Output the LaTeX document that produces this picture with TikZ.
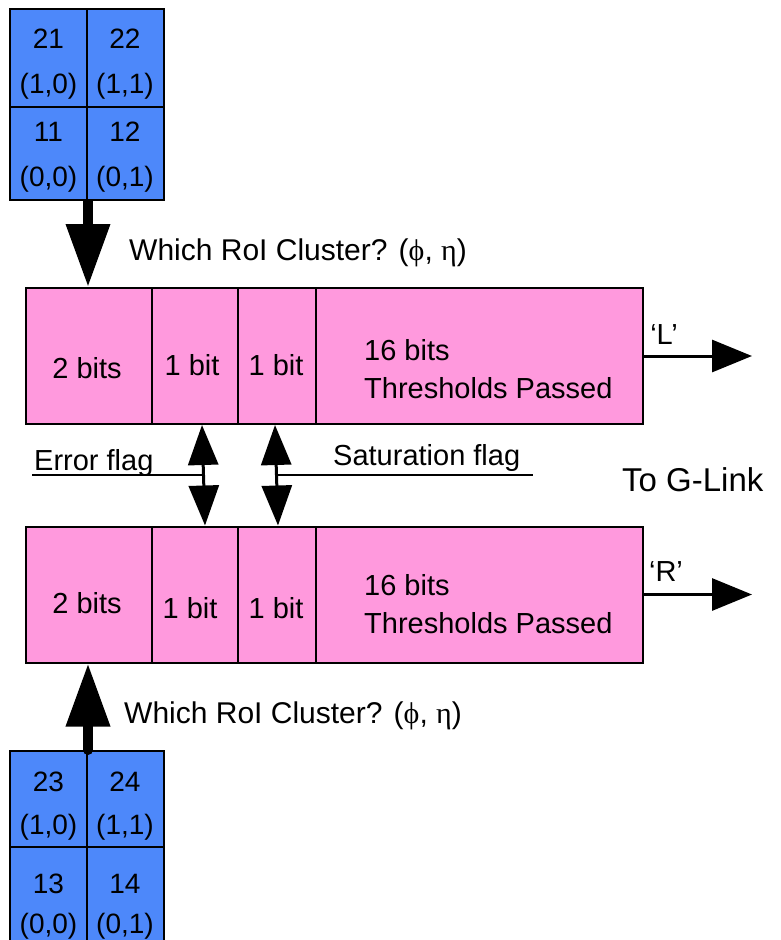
\documentclass[tikz,border=0pt]{standalone}
\usepackage{fontspec}
\setmainfont{Liberation Sans}
\newfontfamily\greekfont{Liberation Serif}
\usepackage{tikz}
\usetikzlibrary{positioning}
\usetikzlibrary{arrows.meta,shapes}
\usetikzlibrary{calc}
\definecolor{cellblue}{RGB}{77,136,250}
\definecolor{wordpink}{RGB}{255,153,221}
\tikzstyle{towercell}=[rectangle,draw=black,line width=2pt,fill=cellblue,minimum width=77pt,inner sep=0pt]
\tikzstyle{wordcell}=[rectangle,draw=black,line width=2pt,fill=wordpink,minimum height=136pt,inner sep=0pt]
\tikzstyle{celltext}=[font=\fontsize{28}{34}\selectfont,inner sep=0pt]
\tikzstyle{wordtext}=[font=\fontsize{29}{38}\selectfont,inner sep=0pt]
\tikzstyle{roitext}=[font=\fontsize{30}{36}\selectfont,inner sep=0pt,anchor=west]
\tikzstyle{cellarrow} = [draw,line width=10pt,-{Triangle[width=42pt,length=63pt]}]
\tikzstyle{flagarrow} = [draw,line width=3pt,{Triangle[width=30pt,length=40pt]}-{Triangle[width=30pt,length=40pt]}]
\tikzstyle{outarrow} = [draw,line width=3pt,-{Triangle[width=32pt,length=40pt]}]
\tikzstyle{flagline} = [draw,line width=2pt]
\newcommand{\phieta}{({\greekfont\char"03D5}, {\greekfont\char"03B7})}

\begin{document}
\begin{tikzpicture}[x=1pt,y=-1pt]
\useasboundingbox (0,0) rectangle (780,940);

    % First we draw the two towers of cells
    \foreach \pos/\name/\h in {{(48.5,58)/c21/98}, {(125,58)/c22/98}, {(48.5,153.5)/c11/93}, {(125,153.5)/c12/93}, {(48.5,799)/c23/96}, {(125,799)/c24/96}, {(48.5,894)/c13/94}, {(125,894)/c14/94}}
        \node[towercell, minimum height=\h pt] (\name) at \pos {};

    % Then the numbers and (row,col) of each cell
    \foreach \name/\num/\rc/\dn/\dr in {c21/21/{(1,0)}/31/78, c22/22/{(1,1)}/31/78, c11/11/{(0,0)}/26/73, c12/12/{(0,1)}/26/73, c23/23/{(1,0)}/32/77, c24/24/{(1,1)}/32/77, c13/13/{(0,0)}/38/80, c14/14/{(0,1)}/38/80}
    {
        \node[celltext] (n\name) at ([yshift=-\dn pt]\name.north) {\num};
        \node[celltext] (p\name) at ([yshift=-\dr pt]\name.north) {\rc};
    }

    % The two words sent out, 'L' on top and 'R' below
    \foreach \pos/\name/\w in {{(89,356)/L1/126}, {(195,356)/L2/86}, {(277,356)/L3/78}, {(479.5,356)/L4/327}, {(89,594.5)/R1/126}, {(195,594.5)/R2/86}, {(277,594.5)/R3/78}, {(479.5,594.5)/R4/327}}
        \node[wordcell, minimum width=\w pt] (\name) at \pos {};

    \foreach \pos/\label [count=\i] in {{(87,368)/2 bits}, {(192,365)/1 bit}, {(276,365)/1 bit}, {(87,603)/2 bits}, {(190,608)/1 bit}, {(276,608)/1 bit}}
        \node[wordtext] (b\i) at \pos {\label};
\node[wordtext, align=left, anchor=west] (thrL) at (364,369) {16 bits\\Thresholds Passed};
\node[wordtext, align=left, anchor=west] (thrR) at (364,604) {16 bits\\Thresholds Passed};

    % Cluster arrows into the words
  \path[cellarrow] (c11.south east) -- (c11.south east |- L1.north);
  \path[cellarrow, line cap=round] (c23.north east) -- (c23.north east |- R1.south);
\node[roitext] (roiL) at (129,253) {Which RoI Cluster? \phieta};
\node[roitext] (roiR) at (124,716) {Which RoI Cluster? \phieta};

    % Flags shared between the words
  \path[flagarrow] ([xshift=7pt]L2.south) -- ([xshift=10pt]R2.north);
  \path[flagarrow] ([xshift=-2pt]L3.south) -- ([xshift=1pt]R3.north);
\coordinate (errA) at (32,475);
\coordinate (errB) at (203,475);
\coordinate (satA) at (277,475);
\coordinate (satB) at (533,475);
  \path[flagline] (errA) -- (errB);
  \path[flagline] (satA) -- (satB);
\node[wordtext, anchor=base west] (errflag) at (34,470) {Error flag};
\node[wordtext, anchor=base west] (satflag) at (333,465) {Saturation flag};

    % Out to the G-Link
\coordinate (outL) at (752,356);
\coordinate (outR) at (752,594.5);
  \path[outarrow] (L4.east) -- (outL);
  \path[outarrow] (R4.east) -- (outR);
\node[wordtext] (tagL) at (664,335) {`L'};
\node[wordtext] (tagR) at (666,572) {`R'};
\node[wordtext, font=\fontsize{33}{38}\selectfont, anchor=west] (glink) at (622,480) {To G-Link};

   \end{tikzpicture}
\end{document}
